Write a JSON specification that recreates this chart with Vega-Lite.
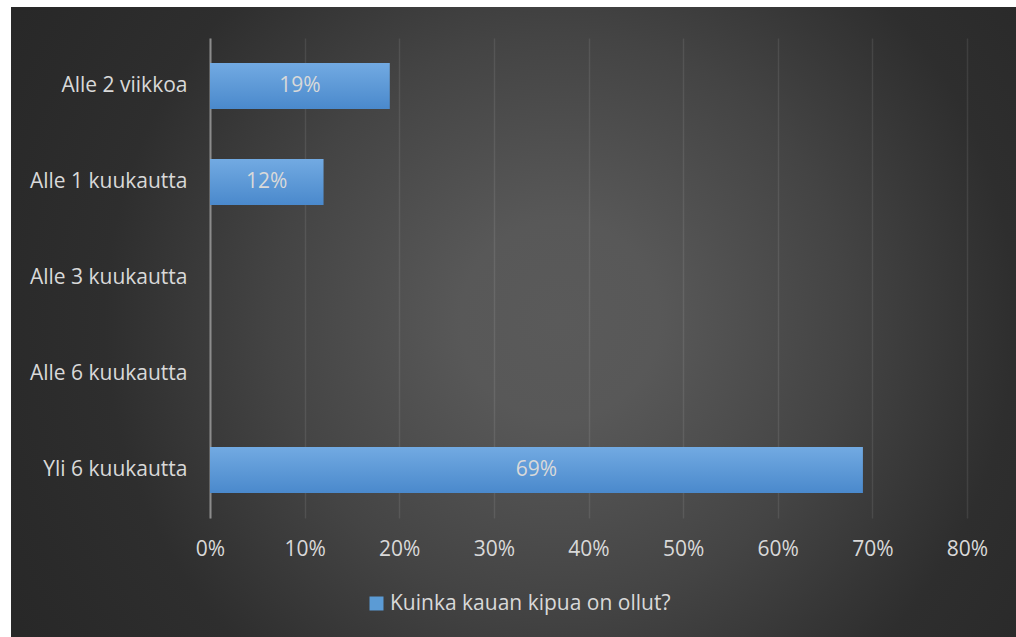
{
  "$schema": "https://vega.github.io/schema/vega-lite/v6.json",
  "width": 1005,
  "height": 630,
  "autosize": {"type": "none"},
  "padding": {"top": 7, "left": 11, "right": 0, "bottom": 0},
  "background": "#ffffff",
  "view": {
    "stroke": null,
    "fill": {
      "gradient": "radial",
      "x1": 0.546, "y1": 0.498, "r1": 0,
      "x2": 0.546, "y2": 0.498, "r2": 0.62,
      "stops": [
        {"offset": 0, "color": "#5a5a5a"},
        {"offset": 0.16, "color": "#585858"},
        {"offset": 0.46, "color": "#444444"},
        {"offset": 0.63, "color": "#363636"},
        {"offset": 0.73, "color": "#2e2e2e"},
        {"offset": 0.9, "color": "#2a2a2a"},
        {"offset": 1, "color": "#282828"}
      ]
    }
  },
  "config": {
    "font": "Open Sans"
  },
  "resolve": {"axis": {"x": "independent"}},
  "data": {
    "values": [
      {"category": "Alle 2 viikkoa", "share": 0.19, "series": "Kuinka kauan kipua on ollut?"},
      {"category": "Alle 1 kuukautta", "share": 0.12, "series": "Kuinka kauan kipua on ollut?"},
      {"category": "Alle 3 kuukautta", "share": 0, "series": "Kuinka kauan kipua on ollut?"},
      {"category": "Alle 6 kuukautta", "share": 0, "series": "Kuinka kauan kipua on ollut?"},
      {"category": "Yli 6 kuukautta", "share": 0.69, "series": "Kuinka kauan kipua on ollut?"}
    ]
  },
  "encoding": {
    "y": {
      "field": "category",
      "type": "nominal",
      "sort": null,
      "scale": {"range": [31, 511], "paddingInner": 0.52, "paddingOuter": 0.26},
      "axis": {
        "title": null,
        "offset": -199,
        "ticks": false,
        "grid": false,
        "domainColor": "#8c8c8c",
        "domainWidth": 2,
        "labelFontSize": 21,
        "labelColor": "#d9d9d9",
        "labelPadding": 23,
        "labelLimit": 400
      }
    }
  },
  "layer": [
    {
      "mark": {
        "type": "bar",
        "fill": {
          "gradient": "linear",
          "x1": 0, "y1": 0, "x2": 0, "y2": 1,
          "stops": [
            {"offset": 0, "color": "#72aae2"},
            {"offset": 1, "color": "#4a89cc"}
          ]
        }
      },
      "encoding": {
        "x": {
          "field": "share",
          "type": "quantitative",
          "scale": {"domain": [0, 0.8], "range": [199, 956], "nice": false, "zero": true},
          "axis": {
            "title": null,
            "orient": "top",
            "offset": 0,
            "values": [0, 0.1, 0.2, 0.3, 0.4, 0.5, 0.6, 0.7, 0.8],
            "labels": false,
            "domain": false,
            "ticks": false,
            "grid": true,
            "gridColor": "#ffffff",
            "gridOpacity": 0.09,
            "gridWidth": 1.5
          }
        }
      }
    },
    {
      "mark": {"type": "square", "opacity": 0},
      "encoding": {
        "x": {"field": "share", "type": "quantitative", "axis": null},
        "color": {
          "field": "series",
          "type": "nominal",
          "scale": {"range": ["#5b9bd5"]},
          "legend": {
            "title": null,
            "orient": "none",
            "legendX": 355,
            "legendY": 586,
            "symbolType": "square",
            "symbolSize": 196,
            "symbolOpacity": 1,
            "symbolStrokeWidth": 0,
            "symbolFillColor": "#5b9bd5",
            "labelFontSize": 21,
            "labelColor": "#d9d9d9",
            "labelOffset": 3,
            "labelLimit": 500
          }
        }
      }
    },
    {
      "transform": [
        {"filter": "datum.share > 0"},
        {"calculate": "datum.share / 2", "as": "mid"}
      ],
      "mark": {"type": "text", "fontSize": 21, "color": "#d9d9d9", "align": "center", "baseline": "middle"},
      "encoding": {
        "x": {
          "field": "mid",
          "type": "quantitative",
          "axis": {
            "title": null,
            "orient": "bottom",
            "offset": -119,
            "values": [0, 0.1, 0.2, 0.3, 0.4, 0.5, 0.6, 0.7, 0.8],
            "format": ".0%",
            "domain": false,
            "ticks": false,
            "grid": false,
            "labelFlush": false,
            "labelOverlap": false,
            "labelFontSize": 21,
            "labelColor": "#d9d9d9",
            "labelPadding": 20
          }
        },
        "text": {"field": "share", "type": "quantitative", "format": ".0%"}
      }
    }
  ]
}
